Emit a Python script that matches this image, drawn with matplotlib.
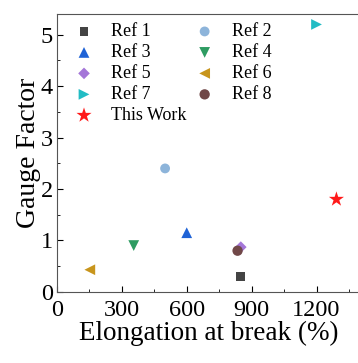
import matplotlib.pyplot as plt
from matplotlib.ticker import MultipleLocator

plt.rcParams["font.family"] = ["Liberation Serif", "DejaVu Serif"]
plt.rcParams["mathtext.fontset"] = "stix"

labels = ["Ref 1", "Ref 2", "Ref 3", "Ref 4", "Ref 5", "Ref 6", "Ref 7", "Ref 8", "This Work"]
elongation = [850, 500, 600, 355, 850, 152, 1200, 835, 1292]
gauge_factor = [0.3, 2.4, 1.15, 0.9, 0.87, 0.43, 5.2, 0.8, 1.8]
markers = ["s", "o", "^", "v", "D", "<", ">", "o", "*"]
colors = ["#444444", "#8db4da", "#1f63d6", "#2e9c62", "#a476d8",
          "#c8951c", "#22bcc4", "#714848", "#ff1a1a"]
sizes = [40, 50, 60, 60, 35, 60, 60, 55, 130]

fig = plt.figure(figsize=(3.58, 3.63), dpi=100)
ax = fig.add_axes([0.159, 0.196, 0.846, 0.765])

handles = {}
for lab, x, y, m, c, s in zip(labels, elongation, gauge_factor, markers, colors, sizes):
    handles[lab] = ax.scatter(x, y, marker=m, color=c, s=s, label=lab,
                              edgecolors="none", zorder=3)

ax.set_xlim(0, 1400)
ax.set_ylim(0, 5.4)
ax.xaxis.set_major_locator(MultipleLocator(300))
ax.xaxis.set_minor_locator(MultipleLocator(150))
ax.yaxis.set_major_locator(MultipleLocator(1))
ax.yaxis.set_minor_locator(MultipleLocator(0.5))
ax.tick_params(which="both", direction="in", labelsize=17.5)
ax.tick_params(axis="x", pad=6)
ax.tick_params(axis="y", pad=3)
ax.tick_params(which="major", length=4)
ax.tick_params(which="minor", length=2)
for sp in ax.spines.values():
    sp.set_color("#555555")
ax.spines["right"].set_visible(False)

ax.set_xlabel("Elongation at break (%)", fontsize=19.5, labelpad=0)
ax.set_ylabel("Gauge Factor", fontsize=20, labelpad=0)

# legend filled row by row, two columns
order = ["Ref 1", "Ref 3", "Ref 5", "Ref 7", "This Work", "Ref 2", "Ref 4", "Ref 6", "Ref 8"]
ax.legend([handles[k] for k in order], order, loc="upper left", ncol=2,
          frameon=False, fontsize=13, handletextpad=0.5, columnspacing=0.0,
          labelspacing=0.22, borderaxespad=0.1, borderpad=0.4, scatterpoints=1)

fig.savefig("out.png", dpi=100)
